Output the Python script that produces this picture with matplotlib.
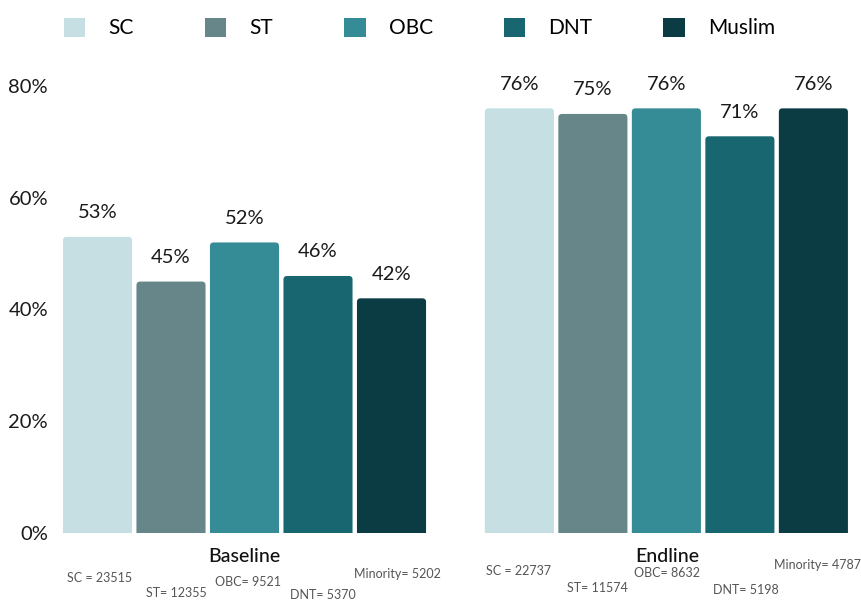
import matplotlib
matplotlib.use("Agg")
import matplotlib.pyplot as plt
from matplotlib.patches import Patch, FancyBboxPatch
import numpy as np

plt.rcParams['font.family'] = ['Lato', 'DejaVu Sans']

# Data
groups = ["SC", "ST", "OBC", "DNT", "Muslim"]
colors = ["#c5dfe2", "#668689", "#358c96", "#186670", "#0b3c44"]
baseline = [53, 45, 52, 46, 42]
endline = [76, 75, 76, 71, 76]
baseline_n = ["SC = 23515", "ST= 12355", "OBC= 9521", "DNT= 5370", "Minority= 5202"]
endline_n = ["SC = 22737", "ST= 11574", "OBC= 8632", "DNT= 5198", "Minority= 4787"]
yticks = [0, 20, 40, 60, 80]

W, H = 861, 601
fig = plt.figure(figsize=(W / 100, H / 100), dpi=100)

# axes placed in pixel terms
px_per_unit = 5.5875
y_top = 95
ax_left, ax_right = 55, 861
ax_bottom = 533
ax = fig.add_axes([ax_left / W, (H - ax_bottom) / H, (ax_right - ax_left) / W,
                   y_top * px_per_unit / H])

step = 73.5
first_center = 97.5
x0 = (ax_left - first_center) / step
x1 = (ax_right - first_center) / step
ax.set_xlim(x0, x1)
ax.set_ylim(0, y_top)

group_offset = [0.0, 5.74]
bar_w = 0.94
x_base = np.arange(5) + group_offset[0]
x_end = np.arange(5) + group_offset[1]

# bars with rounded top corners; the bottom corners sit below y=0 and get clipped
aspect = step / px_per_unit
def rbar(x, h, c):
    r = 0.05
    p = FancyBboxPatch((x - bar_w / 2, -3), bar_w, h + 3,
                       boxstyle=f"round,pad=0,rounding_size={r}",
                       mutation_aspect=aspect, fc=c, ec="none")
    ax.add_patch(p)

for xs, vals in ((x_base, baseline), (x_end, endline)):
    for x, v, c in zip(xs, vals, colors):
        rbar(x, v, c)
        ax.text(x, v + 2.8, f"{v}%", ha="center", va="bottom", fontsize=14.5, color="#1a1a1a")

ax.set_yticks(yticks)
ax.set_yticklabels([f"{t}%" for t in yticks], fontsize=14.5, color="#1a1a1a")
ax.tick_params(axis="y", length=0, pad=5)
ax.set_xticks([])
for s in ax.spines.values():
    s.set_visible(False)

# group titles and sample sizes (figure pixel coords)
def ftext(xp, yp, s, **kw):
    fig.text(xp / W, 1 - yp / H, s, **kw)

ftext(244, 556, "Baseline", ha="center", va="center", fontsize=14, color="#111111", fontweight="medium")
ftext(667, 556, "Endline", ha="center", va="center", fontsize=14, color="#111111", fontweight="medium")

base_pos = [(67, 578), (146, 593), (215, 582), (290, 595), (354, 574)]
end_pos = [(486, 571), (567, 588), (634, 573), (713, 590), (774, 565)]
for labels, pos in ((baseline_n, base_pos), (endline_n, end_pos)):
    for s, (xp, yp) in zip(labels, pos):
        ftext(xp, yp, s, ha="left", va="center", fontsize=9, color="#555555")

handles = [Patch(facecolor=c, edgecolor="none") for c in colors]
fig.legend(handles, groups, loc="center", bbox_to_anchor=(0.487, 1 - 28 / H), ncol=5,
           frameon=False, fontsize=15, handlelength=1.05, handleheight=1.05,
           handletextpad=1.1, columnspacing=3.4)

fig.savefig("out.png", dpi=100, facecolor="white")
